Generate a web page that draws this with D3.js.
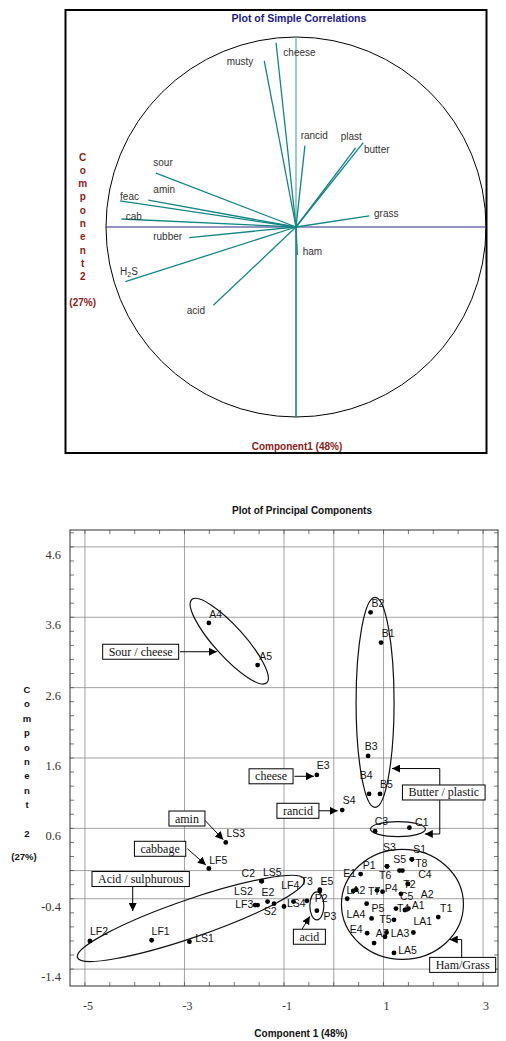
<!DOCTYPE html>
<html>
<head>
<meta charset="utf-8">
<script src="https://cdn.jsdelivr.net/npm/d3@7"></script>
<style>
body { margin: 0; background: #fff; }
svg { display: block; }
</style>
</head>
<body>
<svg width="506" height="1041"></svg>
<script>
// ---- correlation circle data (loadings on component 1 / component 2)
var corrVars = ["musty", "cheese", "rancid", "plast", "butter", "sour", "amin", "feac", "cab", "grass", "rubber", "H2S", "acid", "ham"];
var corrC1 = [-0.167, -0.105, 0.047, 0.314, 0.354, -0.737, -0.777, -0.926, -0.919, 0.386, -0.562, -0.898, -0.435, 0.007];
var corrC2 = [0.874, 0.970, 0.428, 0.417, 0.444, 0.283, 0.141, 0.137, 0.042, 0.059, -0.056, -0.288, -0.412, -0.147];

// ---- principal component scores
var sampleNames = ["A4", "A5", "B2", "B1", "B3", "B4", "B5", "E3", "S4", "C3", "C1", "LS3", "LF5",
  "C2", "LS5", "E2", "S2", "LS4", "LF4", "LF3", "LS2", "T3", "E5", "P2", "P3", "LF2", "LF1", "LS1",
  "E1", "P1", "S3", "S5", "T6", "S1", "T8", "LA2", "", "T7", "P4", "T2", "C4", "C5", "", "P5",
  "T4", "A1", "A2", "LA4", "T5", "LA1", "E4", "A7", "LA3", "", "LA5", "T1"];
var pc1 = [-2.51, -1.53, 0.74, 0.95, 0.69, 0.71, 0.93, -0.34, 0.17, 0.83, 1.52, -2.17, -2.51,
  -1.45, -1.45, -1.33, -1.20, -1.00, -0.81, -1.58, -1.53, -0.54, -0.28, -0.28, -0.34, -4.90, -3.66, -2.90,
  0.54, 1.07, 1.07, 1.32, 1.38, 1.57, 1.57, 0.39, 0.45, 0.87, 0.98, 1.49, 1.49, 1.35, 0.27, 0.66,
  1.25, 1.43, 1.50, 0.76, 1.21, 1.60, 0.67, 1.06, 1.03, 0.81, 1.21, 2.10];
var pc2 = [3.52, 2.92, 3.67, 3.24, 1.63, 1.09, 1.09, 1.36, 0.86, 0.56, 0.61, 0.40, 0.03,
  -0.15, -0.15, -0.44, -0.47, -0.51, -0.44, -0.49, -0.49, -0.43, -0.27, -0.29, -0.57, -1.00, -0.99, -1.01,
  -0.05, 0.06, 0.06, 0.00, 0.00, 0.16, 0.16, -0.29, -0.27, -0.28, -0.30, -0.19, -0.19, -0.33, -0.40, -0.47,
  -0.54, -0.56, -0.54, -0.68, -0.70, -0.88, -0.89, -0.88, -0.94, -1.03, -1.17, -0.66];

var xTickValues = [-5, -3, -1, 1, 3];
var yTickValues = [4.6, 3.6, 2.6, 1.6, 0.6, -0.4, -1.4];
var xGridValues = [-5, -3, -1, 0, 1, 3];
var yGridValues = [4.6, 3.6, 2.6, 1.6, 0.6, 0, -0.4, -1.4];

// ---- annotation groups
var calloutText = ["Sour / cheese", "cheese", "rancid", "Butter / plastic", "amin", "cabbage", "Acid / sulphurous", "acid", "Ham/Grass"];

// ---- layout (pixel offsets for labels, shapes)
var corrLabelOffset = [[-37.6, 4], [7.3, 13.3], [-4.3, -6.2], [-15, -8.2], [0.7, 10.3], [-2.7, -6.8], [5, -7.3],
  [0, -1], [4.4, 0.5], [4.7, 1.3], [-36, 2.3], [-5.3, -7.2], [-26.6, 8.7], [5.4, 0]];
var sampleLabelOffset = [[0.3, -5.3], [1.6, -4.7], [1, -5.3], [0.7, -5.3], [-3.3, -6], [-9.3, -14.7], [0, -5.7], [0, -5.7], [0.4, -5.7], [-0.3, -6], [5.7, -2], [0.7, -5.6], [0.3, -4.3],
  [-20, -4.3], [1.3, -5], [-6, -5.6], [-10.3, 11.7], [3, 1], [-12.3, -12.7], [-20, 3.3], [-23.5, -10], [-6.3, -16], [0.7, -4.7], [-5, 10.7], [6.6, 9], [0, -5.7], [0, -5], [5.7, 0.6],
  [-17.4, 3], [-24.3, 2.3], [-4, -15], [-6.2, -7.4], [-23.4, 8.6], [1.3, -6.3], [3.3, 7.4], [-6.6, 2.6], [0, 0], [-9, 5], [2.3, 0], [-4.7, 4.3], [10.3, -5.7], [-1, 6], [0, 0], [5, 8.4],
  [1, 3.4], [6.7, -0.7], [12.4, -11], [-25, 0], [-14.7, 2.7], [0, -7.7], [-17.3, 0], [-10.7, 4], [5.7, 0], [0, 0], [4.3, 0.6], [1.7, -5]];
// ellipses: centre in data units, radii in px, rotation deg
var ellipses = [
  { c: [-2.10, 3.26], rx: 56, ry: 15, rot: 48 },
  { c: [0.83, 2.39], rx: 19, ry: 105, rot: 0 },
  { c: [1.29, 0.59], rx: 27.5, ry: 7.5, rot: 0 },
  { c: [-2.87, -0.68], rx: 120, ry: 19, rot: -19 },
  { c: [-0.34, -0.50], rx: 7, ry: 14, rot: 0 },
  { c: [1.38, -0.48], rx: 61, ry: 55, rot: 0 }
];
var calloutBox = [[-3.88, 3.11], [-1.26, 1.34], [-0.72, 0.85], [2.21, 1.11], [-2.95, 0.74], [-3.49, 0.31], [-3.88, -0.12], [-0.49, -0.94], [2.59, -1.34]];
var calloutArrows = [
  [[[-3.09, 3.11], [-2.35, 3.11]]],
  [[[-0.79, 1.34], [-0.40, 1.34]]],
  [[[-0.34, 0.85], [0.08, 0.85]]],
  [[[2.13, 1.218], [2.13, 1.45], [1.17, 1.45]], [[2.13, 1.00], [2.13, 0.52], [1.83, 0.52]]],
  [[[-2.63, 0.745], [-2.22, 0.44]]],
  [[[-2.94, 0.31], [-2.57, 0.08]]],
  [[[-4.04, -0.23], [-4.04, -0.575]]],
  [[[-0.64, -0.835], [-0.48, -0.65]]],
  [[[2.57, -1.25], [2.57, -0.98], [2.33, -0.98]]]
];

var svg = d3.select("svg");
var teal = "#138585", darkRed = "#8b1a1a";

// ======================= top: correlations =======================
svg.append("rect")
  .attr("x", 65.5).attr("y", 10).attr("width", 421).attr("height", 443)
  .attr("fill", "none").attr("stroke", "#000").attr("stroke-width", 2);

svg.append("text")
  .attr("x", 299).attr("y", 22)
  .attr("text-anchor", "middle")
  .attr("font-family", "Liberation Sans, Arial, sans-serif")
  .attr("font-weight", "bold").attr("font-size", "10.5px")
  .attr("fill", "#1a1a8c")
  .text("Plot of Simple Correlations");

var cx = d3.scaleLinear().domain([-1, 1]).range([106, 486]),
    cy = d3.scaleLinear().domain([-1, 1]).range([417, 37]);

svg.append("ellipse")
  .attr("cx", cx(0)).attr("cy", cy(0))
  .attr("rx", cx(1) - cx(0)).attr("ry", cy(-1) - cy(0))
  .attr("fill", "none").attr("stroke", "#000").attr("stroke-width", 1);

// axes through the centre
svg.append("line")
  .attr("x1", cx(-1)).attr("x2", cx(1)).attr("y1", cy(0)).attr("y2", cy(0))
  .attr("stroke", "#2a2a88").attr("stroke-width", 1.2);
svg.append("line")
  .attr("x1", cx(0)).attr("x2", cx(0)).attr("y1", cy(1)).attr("y2", cy(0))
  .attr("stroke", "#6fb8b8").attr("stroke-width", 1.4);
svg.append("line")
  .attr("x1", cx(0)).attr("x2", cx(0)).attr("y1", cy(0)).attr("y2", cy(-1))
  .attr("stroke", teal).attr("stroke-width", 1.6);

var corr = corrVars.map(function(v, i) { return { name: v, c1: corrC1[i], c2: corrC2[i], off: corrLabelOffset[i] }; });

svg.selectAll(".vec")
  .data(corr)
  .enter().append("line")
  .attr("class", "vec")
  .attr("x1", cx(0)).attr("y1", cy(0))
  .attr("x2", function(d) { return cx(d.c1); })
  .attr("y2", function(d) { return cy(d.c2); })
  .attr("stroke", teal).attr("stroke-width", 1.3);

var vl = svg.selectAll(".vlab")
  .data(corr)
  .enter().append("text")
  .attr("class", "vlab")
  .attr("x", function(d) { return cx(d.c1) + d.off[0]; })
  .attr("y", function(d) { return cy(d.c2) + d.off[1]; })
  .attr("font-family", "Liberation Sans, Arial, sans-serif")
  .attr("font-size", "10px")
  .attr("fill", "#333");
vl.each(function(d) {
  var t = d3.select(this);
  if (d.name === "H2S") {
    t.append("tspan").text("H");
    t.append("tspan").attr("font-size", "7px").attr("dy", 2).text("2");
    t.append("tspan").attr("dy", -2).text("S");
  } else {
    t.text(d.name);
  }
});

// axis titles
var letters = "Component2".split("");
svg.selectAll(".vlet")
  .data(letters)
  .enter().append("text")
  .attr("class", "vlet")
  .attr("x", 82.7)
  .attr("y", function(d, i) { return 160.5 + i * 13.3; })
  .attr("text-anchor", "middle")
  .attr("font-family", "Liberation Sans, Arial, sans-serif")
  .attr("font-weight", "bold").attr("font-size", "10px")
  .attr("fill", darkRed)
  .text(function(d) { return d; });
svg.append("text")
  .attr("x", 82.7).attr("y", 306)
  .attr("text-anchor", "middle")
  .attr("font-family", "Liberation Sans, Arial, sans-serif")
  .attr("font-weight", "bold").attr("font-size", "10px")
  .attr("fill", darkRed)
  .text("(27%)");
svg.append("text")
  .attr("x", 297).attr("y", 449.5)
  .attr("text-anchor", "middle")
  .attr("font-family", "Liberation Sans, Arial, sans-serif")
  .attr("font-weight", "bold").attr("font-size", "10px")
  .attr("fill", darkRed)
  .text("Component1 (48%)");

// ======================= bottom: scores =======================
var x = d3.scaleLinear().domain([-5.3, 3.3]).range([70, 498]),
    y = d3.scaleLinear().domain([-1.64, 4.84]).range([986, 530]);

svg.append("text")
  .attr("x", 302).attr("y", 513.5)
  .attr("text-anchor", "middle")
  .attr("font-family", "Liberation Sans, Arial, sans-serif")
  .attr("font-weight", "bold").attr("font-size", "10px")
  .attr("fill", "#111")
  .text("Plot of Principal Components");

var g = svg.append("g");

// grid
g.selectAll(".gx").data(xGridValues).enter().append("line")
  .attr("x1", function(d) { return x(d); }).attr("x2", function(d) { return x(d); })
  .attr("y1", y.range()[1]).attr("y2", y.range()[0])
  .attr("stroke", "#8a8a8a").attr("stroke-width", 0.8);
g.selectAll(".gy").data(yGridValues).enter().append("line")
  .attr("y1", function(d) { return y(d); }).attr("y2", function(d) { return y(d); })
  .attr("x1", x.range()[0]).attr("x2", x.range()[1])
  .attr("stroke", "#8a8a8a").attr("stroke-width", 0.8);

// minor ticks on the frame (inward)
var xt = d3.range(-5, 3.01, 0.5), yt = d3.range(-1.4, 4.81, 0.2);
[[y.range()[1], 4], [y.range()[0], -4]].forEach(function(p) {
  g.selectAll(null).data(xt).enter().append("line")
    .attr("x1", function(d) { return x(d); }).attr("x2", function(d) { return x(d); })
    .attr("y1", p[0]).attr("y2", p[0] + p[1])
    .attr("stroke", "#555").attr("stroke-width", 0.8);
});
[[x.range()[0], 4], [x.range()[1], -4]].forEach(function(p) {
  g.selectAll(null).data(yt).enter().append("line")
    .attr("y1", function(d) { return y(d); }).attr("y2", function(d) { return y(d); })
    .attr("x1", p[0]).attr("x2", p[0] + p[1])
    .attr("stroke", "#555").attr("stroke-width", 0.8);
});

g.append("rect")
  .attr("x", x.range()[0]).attr("y", y.range()[1])
  .attr("width", x.range()[1] - x.range()[0]).attr("height", y.range()[0] - y.range()[1])
  .attr("fill", "none").attr("stroke", "#333").attr("stroke-width", 1);

// tick labels
g.selectAll(".xl").data(xTickValues).enter().append("text")
  .attr("x", function(d) { return x(d) + 3; }).attr("y", 1010)
  .attr("text-anchor", "middle")
  .attr("font-family", "Liberation Serif, Times New Roman, serif")
  .attr("font-size", "12px").attr("fill", "#333")
  .text(function(d) { return d; });
g.selectAll(".yl").data(yTickValues).enter().append("text")
  .attr("x", 61).attr("y", function(d) { return y(d) + 12; })
  .attr("text-anchor", "end")
  .attr("font-family", "Liberation Serif, Times New Roman, serif")
  .attr("font-size", "12.5px").attr("fill", "#333")
  .text(function(d) { return d; });

// axis titles
svg.selectAll(".blet")
  .data("Component".split(""))
  .enter().append("text")
  .attr("class", "blet")
  .attr("x", 27)
  .attr("y", function(d, i) { return 693 + i * 14.4; })
  .attr("text-anchor", "middle")
  .attr("font-family", "Liberation Sans, Arial, sans-serif")
  .attr("font-weight", "bold").attr("font-size", "9.5px")
  .attr("fill", "#111")
  .text(function(d) { return d; });
svg.append("text")
  .attr("x", 27).attr("y", 836.5)
  .attr("text-anchor", "middle")
  .attr("font-family", "Liberation Sans, Arial, sans-serif")
  .attr("font-weight", "bold").attr("font-size", "9.5px")
  .attr("fill", "#111").text("2");
svg.append("text")
  .attr("x", 24).attr("y", 860)
  .attr("text-anchor", "middle")
  .attr("font-family", "Liberation Sans, Arial, sans-serif")
  .attr("font-weight", "bold").attr("font-size", "9.5px")
  .attr("fill", "#111").text("(27%)");
svg.append("text")
  .attr("x", 301).attr("y", 1036.5)
  .attr("text-anchor", "middle")
  .attr("font-family", "Liberation Sans, Arial, sans-serif")
  .attr("font-weight", "bold").attr("font-size", "10px")
  .attr("fill", "#111")
  .text("Component 1 (48%)");

// group ellipses
g.selectAll(".ell").data(ellipses).enter().append("ellipse")
  .attr("transform", function(d) { return "translate(" + x(d.c[0]) + "," + y(d.c[1]) + ") rotate(" + d.rot + ")"; })
  .attr("rx", function(d) { return d.rx; })
  .attr("ry", function(d) { return d.ry; })
  .attr("fill", "none").attr("stroke", "#111").attr("stroke-width", 1.2);

// points
var samples = sampleNames.map(function(n, i) { return { name: n, x: pc1[i], y: pc2[i], off: sampleLabelOffset[i] }; });
g.selectAll(".dot").data(samples).enter().append("circle")
  .attr("cx", function(d) { return x(d.x); })
  .attr("cy", function(d) { return y(d.y); })
  .attr("r", 2.4).attr("fill", "#000");
g.selectAll(".slab").data(samples.filter(function(d) { return d.name; })).enter().append("text")
  .attr("x", function(d) { return x(d.x) + d.off[0]; })
  .attr("y", function(d) { return y(d.y) + d.off[1]; })
  .attr("font-family", "Liberation Sans, Arial, sans-serif")
  .attr("font-size", "10.5px").attr("fill", "#111")
  .text(function(d) { return d.name; });

// callouts
svg.append("defs").append("marker")
  .attr("id", "ah").attr("viewBox", "0 0 10 10")
  .attr("refX", 10).attr("refY", 5)
  .attr("markerWidth", 8).attr("markerHeight", 8)
  .attr("markerUnits", "userSpaceOnUse")
  .attr("orient", "auto")
  .append("path").attr("d", "M0,0 L10,5 L0,10 z").attr("fill", "#000");

var line = d3.line().x(function(p) { return x(p[0]); }).y(function(p) { return y(p[1]); });
calloutArrows.forEach(function(arrs) {
  arrs.forEach(function(pts) {
    g.append("path").attr("d", line(pts))
      .attr("fill", "none").attr("stroke", "#000").attr("stroke-width", 1)
      .attr("marker-end", "url(#ah)");
  });
});

calloutText.forEach(function(t, i) {
  var bx = x(calloutBox[i][0]), by = y(calloutBox[i][1]);
  var box = g.append("rect").attr("fill", "#fff").attr("stroke", "#000").attr("stroke-width", 1);
  var txt = g.append("text")
    .attr("x", bx).attr("y", by + 4)
    .attr("text-anchor", "middle")
    .attr("font-family", "Liberation Serif, Times New Roman, serif")
    .attr("font-size", "12px").attr("fill", "#111")
    .text(t);
  var w = txt.node().getComputedTextLength() + 12;
  box.attr("x", bx - w / 2).attr("y", by - 7.5).attr("width", w).attr("height", 15);
});
</script>
</body>
</html>
